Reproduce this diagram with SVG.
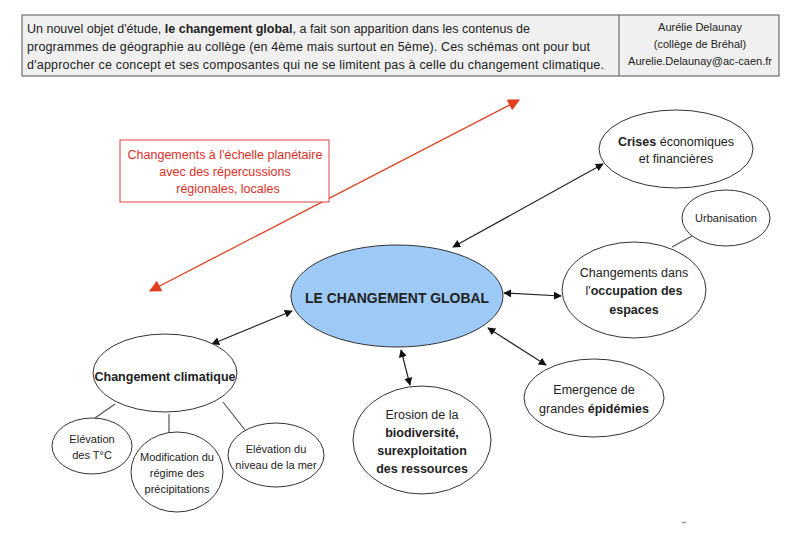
<svg xmlns="http://www.w3.org/2000/svg" width="789" height="556" viewBox="0 0 789 556">
<style>
text{font-family:"Liberation Sans",Arial,sans-serif;fill:#222;}
.hd{font-size:12.5px;}
.n{font-size:12.5px;text-anchor:middle;}
.s{font-size:11px;text-anchor:middle;}
.b{font-weight:bold;}
.red{fill:#e0302a;font-size:12.5px;text-anchor:middle;}
.el{fill:#fff;stroke:#333;stroke-width:1;}
.ln{stroke:#555;stroke-width:1.2;fill:none;}
.ar{stroke:#222;stroke-width:1.2;fill:none;marker-start:url(#ah);marker-end:url(#ah);}
</style>
<defs>
<marker id="ah" viewBox="0 0 10 10" refX="9" refY="5" markerWidth="8" markerHeight="8" markerUnits="userSpaceOnUse" orient="auto-start-reverse"><path d="M0,0L10,5L0,10z" fill="#111"/></marker>
<marker id="rh" viewBox="0 0 10 10" refX="9" refY="5" markerWidth="14" markerHeight="12" markerUnits="userSpaceOnUse" orient="auto-start-reverse"><path d="M0,0L10,5L0,10z" fill="#e0401e"/></marker>
</defs>
<rect width="789" height="556" fill="#fff"/>
<g id="header">
<rect x="22" y="15" width="757" height="61" fill="#f0f0f0" stroke="#555" stroke-width="1"/>
<line x1="619" y1="15" x2="619" y2="76" stroke="#555" stroke-width="1"/>
<text class="hd" x="27" y="33" textLength="503" lengthAdjust="spacing">Un nouvel objet d'étude, <tspan class="b">le changement global</tspan>, a fait son apparition dans les contenus de</text>
<text class="hd" x="27" y="51" textLength="563" lengthAdjust="spacing">programmes de géographie au collège (en 4ème mais surtout en 5ème). Ces schémas ont pour but</text>
<text class="hd" x="27" y="69" textLength="577" lengthAdjust="spacing">d'approcher ce concept et ses composantes qui ne se limitent pas à celle du changement climatique.</text>
<text class="s" x="700" y="31">Aurélie Delaunay</text>
<text class="s" x="700" y="48">(collège de Bréhal)</text>
<text class="s" x="700" y="65">Aurelie.Delaunay@ac-caen.fr</text>
</g>
<g id="connectors">
<line x1="150" y1="291" x2="519" y2="100" stroke="#e0401e" stroke-width="1.3" marker-start="url(#rh)" marker-end="url(#rh)"/>
<line class="ar" x1="453" y1="247" x2="603" y2="164"/>
<line class="ar" x1="504" y1="293" x2="561" y2="296"/>
<line class="ar" x1="488" y1="328" x2="546" y2="365"/>
<line class="ar" x1="401" y1="350" x2="410" y2="385"/>
<line class="ar" x1="292" y1="311" x2="212" y2="344"/>
<line class="ln" x1="692" y1="236" x2="672" y2="247"/>
<line class="ln" x1="115" y1="404" x2="95" y2="418"/>
<line class="ln" x1="169" y1="414" x2="169" y2="433"/>
<line class="ln" x1="223" y1="402" x2="245" y2="430"/>
</g>
<g id="echelle">
<rect x="120" y="140" width="209" height="62" fill="#fff" stroke="#e04040" stroke-width="1"/>
<text class="red" x="225" y="159">Changements à l'échelle planétaire</text>
<text class="red" x="225" y="176">avec des répercussions</text>
<text class="red" x="228" y="193">régionales, locales</text>
</g>
<g id="global">
<ellipse cx="397" cy="296" rx="106" ry="51" fill="#9dcaf7" stroke="#333" stroke-width="1"/>
<text class="n b" x="397" y="303" font-size="14" textLength="184" lengthAdjust="spacingAndGlyphs" style="font-size:14px">LE CHANGEMENT GLOBAL</text>
</g>
<g id="crises">
<ellipse class="el" cx="676" cy="149" rx="77" ry="39"/>
<text class="n" x="676" y="146"><tspan class="b">Crises</tspan> économiques</text>
<text class="n" x="676" y="163">et financières</text>
</g>
<g id="urbanisation">
<ellipse class="el" cx="726" cy="218" rx="44" ry="28"/>
<text class="s" x="726" y="222">Urbanisation</text>
</g>
<g id="occupation">
<ellipse class="el" cx="634" cy="290" rx="72" ry="48"/>
<text class="n" x="634" y="277">Changements dans</text>
<text class="n" x="634" y="295">l'<tspan class="b">occupation des</tspan></text>
<text class="n b" x="634" y="314">espaces</text>
</g>
<g id="epidemies">
<ellipse class="el" cx="594" cy="398" rx="70" ry="39"/>
<text class="n" x="594" y="394">Emergence de</text>
<text class="n" x="594" y="413">grandes <tspan class="b">épidémies</tspan></text>
</g>
<g id="biodiversite">
<ellipse class="el" cx="422" cy="440" rx="69" ry="54"/>
<text class="n" x="422" y="419">Erosion de la</text>
<text class="n b" x="422" y="437">biodiversité,</text>
<text class="n b" x="422" y="455">surexploitation</text>
<text class="n b" x="422" y="473">des ressources</text>
</g>
<g id="climatique">
<ellipse class="el" cx="165" cy="373" rx="72" ry="39"/>
<text class="n b" x="165" y="381">Changement climatique</text>
</g>
<g id="temperature">
<ellipse class="el" cx="92" cy="446" rx="40" ry="28"/>
<text class="s" x="92" y="443">Elévation</text>
<text class="s" x="92" y="459">des T°C</text>
</g>
<g id="precipitations">
<ellipse class="el" cx="177" cy="472" rx="46" ry="40"/>
<text class="s" x="177" y="461">Modification du</text>
<text class="s" x="177" y="477">régime des</text>
<text class="s" x="177" y="493">précipitations</text>
</g>
<g id="mer">
<ellipse class="el" cx="276" cy="455" rx="48" ry="32"/>
<text class="s" x="276" y="453">Elévation du</text>
<text class="s" x="276" y="469">niveau de la mer</text>
</g>
<line x1="682" y1="523" x2="686" y2="522" stroke="#777" stroke-width="1"/>
</svg>
